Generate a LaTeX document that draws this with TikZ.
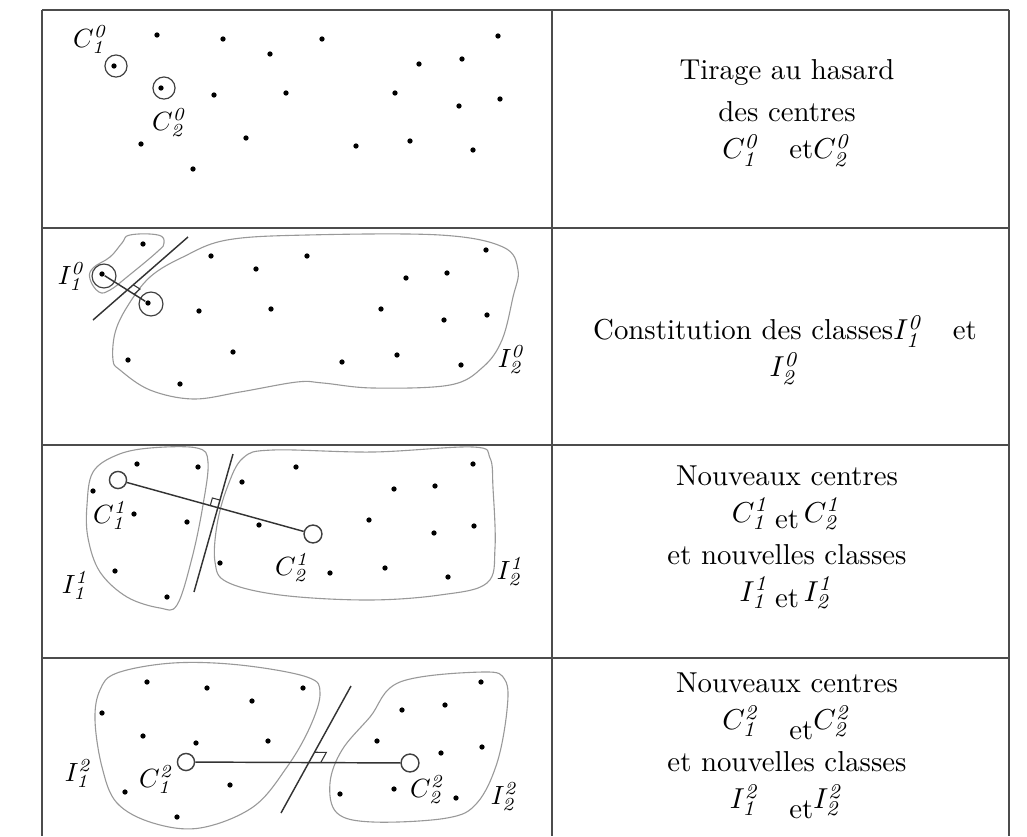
\documentclass[tikz,border=0pt]{standalone}
\usepackage{tikz}
\usetikzlibrary{calc}
\tikzset{
  pt/.style={circle, fill, inner sep=0pt, minimum size=2pt},
  ring/.style={circle, draw=black!75, line width=0.45pt, inner sep=0pt, minimum size=8.4pt},
  ctr/.style={circle, draw=black!75, line width=0.55pt, inner sep=0pt, minimum size=6.5pt},
  cls/.style={draw=black!40, line width=0.42pt},
  sep/.style={draw=black!80, line width=0.55pt},
  link/.style={draw=black!80, line width=0.55pt},
  perp/.style={draw=black!80, line width=0.4pt},
  grid/.style={draw=black!70, line width=0.76pt},
  lbl/.style={inner sep=0pt},
  txt/.style={align=center, inner sep=0pt, font=\fontsize{10.95}{14}\selectfont}
}
\newcommand{\ptlab}[3]{$#1^{\mathit{#2}}_{\mathit{#3}}$}

\begin{document}
\begin{tikzpicture}[x=0.38pt, y=-0.38pt]
  \useasboundingbox (0,0) rectangle (1027,836);

  % table
  \draw[grid] (42,10) -- (1009,10);
  \draw[grid] (42,228) -- (1009,228);
  \draw[grid] (42,445) -- (1009,445);
  \draw[grid] (42,658) -- (1009,658);
  \draw[grid] (42,10) -- (42,836);
  \draw[grid] (552,10) -- (552,836);
  \draw[grid] (1009,10) -- (1009,836);

  % step 0: random centres
  \foreach \x/\y [count=\i] in {157/35, 223/39, 322/39, 498/36, 270/54, 419/64, 462/59, 114/66, 161/88, 214/95,
      286/93, 395/93, 459/106, 500/99, 141/144, 246/138, 356/146, 410/141, 473/150, 193/169}
    \node[pt] (pa\i) at (\x,\y) {};
  \node[ring] (ra1) at (116,66) {};
  \node[ring] (ra2) at (164,88) {};
  \node[lbl] (lCa1) at (91,40) {\ptlab{C}{0}{1}};
  \node[lbl] (lCa2) at (170,123) {\ptlab{C}{0}{2}};

  % step 1: first classes
  \draw[cls] plot[smooth cycle, tension=0.7] coordinates {(130,235) (158,235) (164,243) (157,252) (127,277)
      (110,290) (99,292) (90,279) (93,268) (110,257) (122,243)};
  \draw[cls] plot[smooth cycle, tension=0.6] coordinates {(113,360) (115,333) (127,307) (150,277) (183,257)
      (227,240) (307,235) (440,235) (503,247) (518,270) (513,297) (502,340) (483,367) (450,385) (373,388)
      (323,383) (297,382) (240,392) (193,399) (150,390) (120,370)};
  \foreach \x/\y [count=\i] in {143/244, 211/256, 307/256, 486/250, 256/269, 406/278, 447/273, 102/274, 148/303, 199/311,
      271/309, 381/309, 444/320, 487/315, 128/360, 233/352, 342/362, 397/355, 461/365, 180/384}
    \node[pt] (pb\i) at (\x,\y) {};
  \node[ring, minimum size=9.1pt] (rb1) at (104,276) {};
  \node[ring, minimum size=9.1pt] (rb2) at (151,304) {};
  \coordinate (b-bot) at (93,320);
  \coordinate (b-top) at (188,237);
  \draw[sep] (b-bot) -- (b-top);
  \draw[link] (pb8) -- (pb9);
  \coordinate (bP) at (intersection of b-bot--b-top and pb8.center--pb9.center);
  \coordinate (bU) at ($(bP)!3pt!(pb9)$);
  \coordinate (bV) at ($(bP)!3pt!(b-top)$);
  \draw[perp] (bU) -- ($(bU)+(bV)-(bP)$) -- (bV);
  \node[lbl] (lIb1) at (72,277) {\ptlab{I}{0}{1}};
  \node[lbl] (lIb2) at (512,360) {\ptlab{I}{0}{2}};

  % step 2: new centres, new classes
  \draw[cls] plot[smooth cycle, tension=0.6] coordinates {(87,505) (93,472) (117,455) (150,448) (197,448)
      (208,462) (203,505) (192,558) (177,605) (160,608) (127,597) (100,572) (88,538)};
  \draw[cls] plot[smooth cycle, tension=0.6] coordinates {(243,458) (273,450) (373,452) (473,447) (490,458)
      (493,488) (495,548) (487,583) (440,595) (367,600) (280,595) (227,582) (215,562) (217,525) (227,488)};
  \foreach \x/\y [count=\i] in {137/464, 198/467, 296/467, 473/464, 242/482, 93/491, 394/489, 435/486, 134/514, 187/522,
      259/525, 369/520, 434/533, 474/526, 220/563, 330/573, 385/568, 448/577, 115/571, 167/597}
    \node[pt] (pc\i) at (\x,\y) {};
  \node[ctr] (cc1) at (118,480) {};
  \node[ctr, minimum size=6.8pt] (cc2) at (313,534) {};
  \coordinate (c-bot) at (194,592);
  \coordinate (c-top) at (233,454);
  \draw[sep] (c-bot) -- (c-top);
  \draw[link] (cc1) -- (cc2);
  \coordinate (cP) at (intersection of c-bot--c-top and cc1.center--cc2.center);
  \coordinate (cU) at ($(cP)!3pt!(cc1)$);
  \coordinate (cV) at ($(cP)!3pt!(c-top)$);
  \draw[perp] (cU) -- ($(cU)+(cV)-(cP)$) -- (cV);
  \node[lbl] (lCc1) at (111,516) {\ptlab{C}{1}{1}};
  \node[lbl] (lCc2) at (293,568) {\ptlab{C}{1}{2}};
  \node[lbl] (lIc1) at (76,586) {\ptlab{I}{1}{1}};
  \node[lbl] (lIc2) at (511,572) {\ptlab{I}{1}{2}};

  % step 3: next iteration
  \draw[cls] plot[smooth cycle, tension=0.6] coordinates {(100,690) (117,673) (173,663) (240,665) (307,677)
      (320,693) (310,727) (287,767) (253,807) (200,828) (153,823) (117,803) (102,767) (95,720)};
  \draw[cls] plot[smooth cycle, tension=0.6] coordinates {(400,682) (483,672) (505,680) (507,710) (497,763)
      (477,803) (447,818) (373,822) (337,813) (330,783) (342,750) (370,717)};
  \foreach \x/\y [count=\i] in {147/682, 207/688, 303/688, 481/682, 252/701, 102/713, 402/710, 445/705, 143/736, 196/743,
      268/741, 377/741, 441/753, 482/747, 125/792, 230/785, 340/794, 394/789, 456/798, 177/817}
    \node[pt] (pd\i) at (\x,\y) {};
  \node[ctr] (cd1) at (186,762) {};
  \node[ctr, minimum size=6.8pt] (cd2) at (410,763) {};
  \coordinate (d-bot) at (281,813);
  \coordinate (d-top) at (351,686);
  \draw[sep] (d-bot) -- (d-top);
  \draw[link] (cd1) -- (cd2);
  \coordinate (dP) at (intersection of d-bot--d-top and cd1.center--cd2.center);
  \coordinate (dU) at ($(dP)!4.5pt!(cd2)$);
  \coordinate (dV) at ($(dP)!4.5pt!(d-top)$);
  \draw[perp] (dU) -- ($(dU)+(dV)-(dP)$) -- (dV);
  \node[lbl] (lId1) at (79,774) {\ptlab{I}{2}{1}};
  \node[lbl] (lCd1) at (157,780) {\ptlab{C}{2}{1}};
  \node[lbl] (lCd2) at (428,790) {\ptlab{C}{2}{2}};
  \node[lbl] (lId2) at (505,797) {\ptlab{I}{2}{2}};

  % captions
  \node[txt] (ta) at (787,113) {Tirage au hasard\\[2pt]des centres\\\ptlab{C}{0}{1}\quad et\ptlab{C}{0}{2}};
  \node[txt] (tb) at (785,350) {Constitution des classes\ptlab{I}{0}{1}\quad et\\\ptlab{I}{0}{2}};
  \node[txt] (tc) at (787,537) {Nouveaux centres\\\ptlab{C}{1}{1}\,\raisebox{-0.5ex}{et}\,\ptlab{C}{1}{2}\\[2pt]
      et nouvelles classes\\\ptlab{I}{1}{1}\,\raisebox{-0.5ex}{et}\,\ptlab{I}{1}{2}};
  \node[txt] (td) at (787,746) {Nouveaux centres\\\ptlab{C}{2}{1}\quad\raisebox{-0.8ex}{et}\ptlab{C}{2}{2}\\[2pt]
      et nouvelles classes\\\ptlab{I}{2}{1}\quad\raisebox{-0.8ex}{et}\ptlab{I}{2}{2}};
\end{tikzpicture}
\end{document}
